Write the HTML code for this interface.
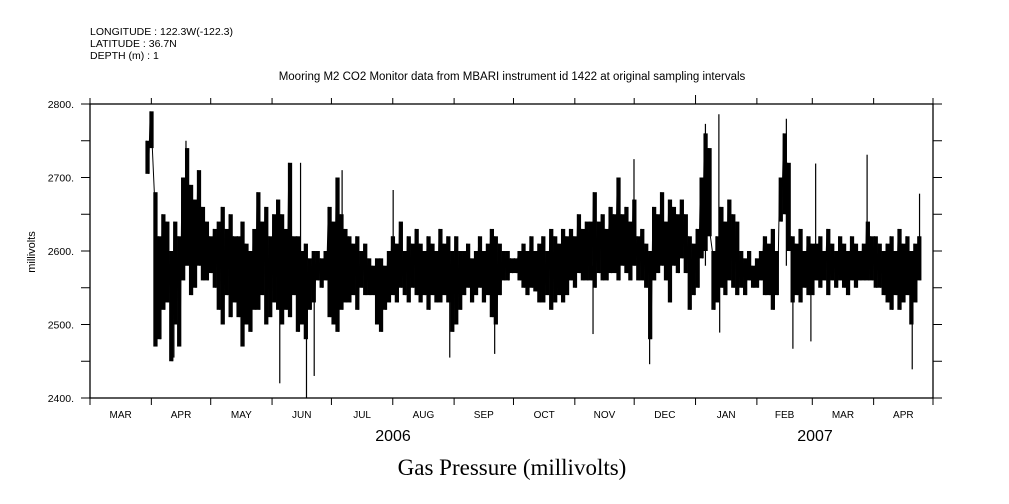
<!DOCTYPE html>
<html><head><meta charset="utf-8">
<style>
html,body{margin:0;padding:0;background:#fff;}
svg{display:block;font-family:"Liberation Sans",sans-serif;}
</style></head>
<body>
<svg id="chart" width="1009" height="504" viewBox="0 0 1009 504" xmlns="http://www.w3.org/2000/svg">
<rect width="1009" height="504" fill="#fff"/>
<g font-size="10.5" fill="#000">
<text x="90" y="35">LONGITUDE : 122.3W(-122.3)</text>
<text x="90" y="47">LATITUDE : 36.7N</text>
<text x="90" y="59">DEPTH (m) : 1</text>
</g>
<text x="512" y="80" text-anchor="middle" font-size="11.5">Mooring M2 CO2 Monitor data from MBARI instrument id 1422 at original sampling intervals</text>
<text transform="translate(35,252) rotate(-90)" text-anchor="middle" font-size="11">millivolts</text>
<text x="393" y="441" text-anchor="middle" font-size="16">2006</text>
<text x="815" y="441" text-anchor="middle" font-size="16">2007</text>
<text x="512" y="475" text-anchor="middle" font-size="23" font-family="'Liberation Serif',serif">Gas Pressure (millivolts)</text>
<g id="axes"></g>
<g id="series"></g>
<rect x="90" y="104" width="843" height="294" fill="none" stroke="#000" stroke-width="1.3"/>
</svg>
<script>
const startDay = 29, binDays = 2;
const hiVals = [2750,2790, 2680,2620, 2650,2640, 2600,2640,2620, 2700,2740,2690, 2670,2710,2660, 2640,2620,2630,
2640,2660,2630,2650,2620, 2620,2640,2610,2600,2630, 2680,2640,2660,2620,2650,2670, 2650,2630,2720,2620,
2620,2600,2610,2590,2600, 2600,2590,2600, 2660,2640,2700,2650,2630, 2620,2610,2620,2600,2610,
2590,2580,2590,2590,2580,2600, 2620,2610,2640,2600,2620,2610,2630, 2610,2600,2620,2610,2600,2630,2610,2620,
2600,2620,2600, 2600,2610,2590,2600,2620,2600,2610, 2630,2620,2610,2600, 2600,2590,2590,2600,
2610,2600,2620,2600, 2610,2620,2600,2630,2620,2610,2630,2620, 2630,2620,2650,2630,2640,
2640,2680,2640,2650,2630,2660, 2650,2700,2650,2660,2640,2670, 2620,2630,2610,2600, 2660,2650,2680,2640,
2670,2660,2650,2670,2650, 2620,2610,2630, 2700,2760,2740, 2600,2620, 2660,2640,2670,2650,2640,
2600,2590,2600,2580,2590,2600, 2620,2610,2630,2600, 2700,2760,2720, 2620,2610,2630,2600,2620,2610,
2610,2620,2600,2630,2610,2600,2620,2610,2600,2620,2610,2600,2610, 2640,2620,2620,2610,2600,
2610,2620,2600,2630,2610,2620,2600,2610,2620];
const loVals = [2705,2740, 2470,2480, 2520,2530, 2450,2500,2470, 2560,2580,2540, 2550,2580,2560, 2560,2570,2550,
2520,2500,2540,2510,2530, 2510,2470,2500,2490,2520, 2520,2540,2500,2510,2530,2520, 2500,2520,2510,2540,
2490,2500,2480,2520,2530, 2560,2550,2560, 2510,2500,2490,2520,2530, 2530,2540,2520,2550,2540,
2540,2540,2500,2490,2520,2530, 2540,2530,2550,2540,2530,2550,2540, 2530,2540,2520,2540,2530,2530,2540,2530,
2490,2500,2520, 2540,2550,2530,2540,2550,2530,2540, 2510,2500,2540,2560, 2560,2570,2570,2560,
2550,2540,2550,2545, 2530,2530,2540,2520,2530,2540,2530,2540, 2560,2550,2570,2560,2560,
2560,2550,2570,2560,2560,2570, 2570,2560,2580,2570,2560,2580, 2560,2560,2550,2480, 2560,2570,2580,2560,
2530,2580,2570,2590,2570, 2520,2540,2550, 2590,2600,2620, 2520,2530, 2550,2540,2560,2550,2540,
2550,2540,2560,2550,2550,2560, 2540,2540,2520,2540, 2640,2650,2600, 2530,2540,2530,2550,2540,2540,
2560,2550,2560,2540,2560,2550,2560,2550,2540,2560,2550,2560,2560, 2560,2560,2550,2550,2540,
2530,2520,2540,2520,2530,2540,2500,2530,2560];
const spikeDays = [48.5,95.9,106.4,109.4,113.3,127.4,42.4,153.2,181.8,204.5,254.2,274.9,282.8,311,317.8,318.2,351.9,355.2,364.3,366.7,392.7,415.5,419.2];
const spikeVals = [2750,2420,2720,2400,2430,2710,2455,2683,2455,2460,2487,2725,2446,2773,2786,2489,2780,2467,2477,2719,2731,2439,2678];
const monthLabels = ["MAR","APR","MAY","JUN","JUL","AUG","SEP","OCT","NOV","DEC","JAN","FEB","MAR","APR"];
const monthLengths = [31,30,31,30,31,31,30,31,30,31,31,28,31,30];
const yTickVals = [2400,2500,2600,2700,2800];

const X0=90, X1=933, Y0=398, Y1=104, DAYS=426, VMIN=2400, VMAX=2800;
const xs = d => X0 + d*(X1-X0)/DAYS;
const ys = v => Y0 - (v-VMIN)*(Y0-Y1)/(VMAX-VMIN);
const NS="http://www.w3.org/2000/svg";
const axes=document.getElementById('axes'), ser=document.getElementById('series');
function mk(tag,attrs,parent){const e=document.createElementNS(NS,tag);for(const k in attrs)e.setAttribute(k,attrs[k]);parent.appendChild(e);return e;}

for(let v=VMIN; v<=VMAX; v+=50){
  const y=ys(v);
  const t1=mk('line',{x1:X0-9,x2:X0,y1:y,y2:y,stroke:'#000','stroke-width':1},axes);
  
  
  const t2=mk('line',{x1:X1,x2:X1+9,y1:y,y2:y,stroke:'#000','stroke-width':1},axes);
  
  
}
yTickVals.forEach(v=>{
  const t=mk('text',{x:X0-16,y:ys(v)+4,'text-anchor':'end','font-size':10.5},axes);
  t.textContent=v+'.';
  
  
});
let d=0;
for(let i=0;i<=monthLabels.length;i++){
  const x=xs(d);
  const top = (i===10)?95:98;
  const a=mk('line',{x1:x,x2:x,y1:top,y2:Y1,stroke:'#000','stroke-width':1},axes);
  
  
  const b=mk('line',{x1:x,x2:x,y1:Y0,y2:Y0+7,stroke:'#000','stroke-width':1},axes);
  
  
  if(i<monthLabels.length){
    const mid = d + monthLengths[i]/2;
    const t=mk('text',{x:xs(mid),y:418,'text-anchor':'middle','font-size':10},axes);
    t.textContent=monthLabels[i];
    
    
    d+=monthLengths[i];
  }
}
const bw = xs(binDays)-xs(0);
hiVals.forEach((h,i)=>{
  const day = startDay + i*binDays;
  const lo = loVals[i];
  const r=mk('rect',{x:xs(day)-bw/2,y:ys(h),width:bw+0.3,height:Math.max(1,ys(lo)-ys(h)),fill:'#000'},ser);
  
  
});
let pts=[];
hiVals.forEach((h,i)=>{const day=startDay+i*binDays;pts.push(xs(day-0.5)+','+ys(h));pts.push(xs(day+0.5)+','+ys(loVals[i]));});
const pl=mk('polyline',{points:pts.join(' '),fill:'none',stroke:'#000','stroke-width':1},ser);


spikeDays.forEach((sd,i)=>{
  const l=mk('line',{x1:xs(sd),x2:xs(sd),y1:ys(2580),y2:ys(spikeVals[i]),stroke:'#000','stroke-width':1.2},ser);
  
  
});
</script>
</body></html>
